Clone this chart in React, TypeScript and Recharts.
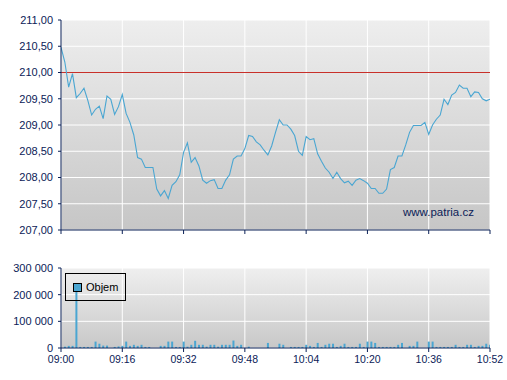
import React from 'react';
import {
  ComposedChart,
  Line,
  Bar,
  XAxis,
  YAxis,
  CartesianGrid,
  ReferenceLine,
  Legend,
} from 'recharts';

// Price per minute from 09:00 (minute 0) to 10:52 (minute 112)
const priceValues: number[] = [
  210.48, 210.2, 209.72, 209.98, 209.52, 209.6, 209.7, 209.47, 209.19, 209.3,
  209.36, 209.12, 209.55, 209.49, 209.2, 209.35, 209.58, 209.22, 209.05, 208.81,
  208.38, 208.35, 208.19, 208.19, 208.19, 207.78, 207.65, 207.75, 207.6, 207.85,
  207.92, 208.05, 208.48, 208.66, 208.29, 208.38, 208.22, 207.95, 207.89, 207.94,
  207.96, 207.79, 207.79, 207.95, 208.05, 208.35, 208.41, 208.41, 208.55, 208.8,
  208.78, 208.68, 208.62, 208.52, 208.43, 208.6, 208.86, 209.1, 209.0, 209.0,
  208.92, 208.8, 208.5, 208.42, 208.78, 208.72, 208.74, 208.45, 208.31, 208.18,
  208.1, 207.98, 208.1, 207.98, 207.9, 207.93, 207.85, 207.95, 207.98, 207.94,
  207.89, 207.79, 207.79, 207.7, 207.7, 207.78, 208.15, 208.19, 208.41, 208.41,
  208.62, 208.86, 208.99, 208.99, 208.99, 209.05, 208.82, 209.0, 209.11, 209.19,
  209.49, 209.39, 209.57, 209.62, 209.76, 209.7, 209.7, 209.54, 209.63, 209.62,
  209.5, 209.46, 209.49,
];

// Volume per minute (shares)
const volumeValues: number[] = [
  0, 5000, 8000, 8000, 212000, 4000, 4000, 4000, 4000, 24000,
  16000, 9000, 9000, 0, 4000, 6000, 8000, 24000, 8000, 12000,
  8000, 12000, 4000, 4000, 0, 0, 8000, 8000, 24000, 24000,
  4000, 4000, 24000, 5000, 12000, 27000, 12000, 12000, 5000, 12000,
  12000, 5000, 12000, 12000, 12000, 28000, 8000, 12000, 0, 5000,
  0, 0, 0, 0, 19000, 0, 0, 16000, 12000, 0,
  4000, 4000, 4000, 4000, 12000, 8000, 4000, 19000, 4000, 12000,
  16000, 16000, 4000, 8000, 16000, 4000, 4000, 4000, 16000, 4000,
  24000, 24000, 19000, 4000, 4000, 4000, 4000, 4000, 12000, 19000,
  0, 8000, 8000, 24000, 0, 0, 24000, 24000, 4000, 4000,
  4000, 4000, 4000, 12000, 4000, 4000, 12000, 12000, 4000, 8000,
  8000, 16000, 12000,
];

const timeTicks: number[] = [0, 16, 32, 48, 64, 80, 96, 112];
const timeTickLabels: string[] = ['09:00', '09:16', '09:32', '09:48', '10:04', '10:20', '10:36', '10:52'];
const priceTicks: number[] = [207, 207.5, 208, 208.5, 209, 209.5, 210, 210.5, 211];
const volumeTicks: number[] = [0, 100000, 200000, 300000];
const referencePrice = 210;
const seriesName = 'Objem';
const watermark = 'www.patria.cz';

const data = priceValues.map((p, i) => ({ t: i, price: p, vol: volumeValues[i] }));

const NAVY = '#0b2157';
const LINE = '#4aa6d2';
const FONT = '"Liberation Sans", Arial, sans-serif';
const tickStyle = { fill: NAVY, fontSize: 11, fontFamily: FONT };
const xTickStyle = { fill: NAVY, fontSize: 10.5, fontFamily: FONT };

const fmtPrice = (v: number) => v.toFixed(2).replace('.', ',');
const fmtVol = (v: number) => String(v).replace(/\B(?=(\d{3})+(?!\d))/g, ' ');
const fmtTime = (v: number) => {
  const idx = timeTicks.indexOf(v);
  return idx >= 0 ? timeTickLabels[idx] : '';
};

const LegendBox = () => (
  <div
    style={{
      width: 61,
      height: 28,
      border: '1px solid #000',
      boxSizing: 'border-box',
      display: 'flex',
      alignItems: 'center',
      paddingLeft: 7,
      fontFamily: FONT,
      fontSize: 11,
      color: '#000',
    }}
  >
    <span
      style={{
        display: 'inline-block',
        width: 7,
        height: 7,
        background: LINE,
        border: '1px solid #000',
        marginRight: 4,
      }}
    />
    {seriesName}
  </div>
);

export default function App() {
  return (
    <div style={{ position: 'absolute', left: 0, top: 0, width: 507, height: 380, background: '#fff' }}>
      <div style={{ position: 'absolute', left: 0, top: 0 }}>
        <ComposedChart width={507} height={240} data={data} margin={{ top: 20, right: 17, bottom: 0, left: 0 }}>
          <defs>
            <linearGradient id="priceBg" x1="0" y1="0" x2="0" y2="1">
              <stop offset="0%" stopColor="#eeeeee" />
              <stop offset="100%" stopColor="#c6c6c6" />
            </linearGradient>
          </defs>
          <CartesianGrid stroke="#ffffff" strokeWidth={1} fill="url(#priceBg)" fillOpacity={1} />
          <XAxis
            dataKey="t"
            type="number"
            domain={[0, 112]}
            ticks={timeTicks}
            tickFormatter={() => ''}
            height={10}
            stroke={NAVY}
            tickSize={4}
            tick={xTickStyle}
            allowDataOverflow
          />
          <YAxis
            type="number"
            domain={[207, 211]}
            ticks={priceTicks}
            tickFormatter={fmtPrice}
            width={61}
            stroke={NAVY}
            tickSize={3}
            tickMargin={5}
            tick={tickStyle}
            interval={0}
            allowDataOverflow
          />
          <ReferenceLine y={referencePrice} stroke="#c8302a" strokeWidth={1} />
          <Line
            type="linear"
            dataKey="price"
            stroke={LINE}
            strokeWidth={1.1}
            dot={false}
            isAnimationActive={false}
          />
        </ComposedChart>
      </div>
      <div
        style={{
          position: 'absolute',
          left: 403,
          top: 206,
          fontFamily: FONT,
          fontSize: 11.5,
          color: NAVY,
        }}
      >
        {watermark}
      </div>
      <div style={{ position: 'absolute', left: 0, top: 250 }}>
        <ComposedChart width={507} height={130} data={data} margin={{ top: 18, right: 17, bottom: 0, left: 0 }}>
          <defs>
            <linearGradient id="volBg" x1="0" y1="0" x2="0" y2="1">
              <stop offset="0%" stopColor="#efefef" />
              <stop offset="100%" stopColor="#c8c8c8" />
            </linearGradient>
          </defs>
          <CartesianGrid stroke="#ffffff" strokeWidth={1} fill="url(#volBg)" fillOpacity={1} />
          <XAxis
            dataKey="t"
            type="number"
            domain={[0, 112]}
            ticks={timeTicks}
            tickFormatter={fmtTime}
            height={32}
            stroke={NAVY}
            tickSize={4}
            tickMargin={4}
            tick={xTickStyle}
            interval={0}
            allowDataOverflow
          />
          <YAxis
            type="number"
            domain={[0, 300000]}
            ticks={volumeTicks}
            tickFormatter={fmtVol}
            width={61}
            stroke={NAVY}
            tickSize={3}
            tickMargin={5}
            tick={tickStyle}
            interval={0}
            allowDataOverflow
          />
          <Legend
            layout="horizontal"
            verticalAlign="middle"
            align="center"
            content={() => <LegendBox />}
            wrapperStyle={{ left: 65, top: 23, width: 61, height: 28 }}
          />
          <Bar dataKey="vol" name={seriesName} fill={LINE} barSize={2} isAnimationActive={false} />
        </ComposedChart>
      </div>
    </div>
  );
}
